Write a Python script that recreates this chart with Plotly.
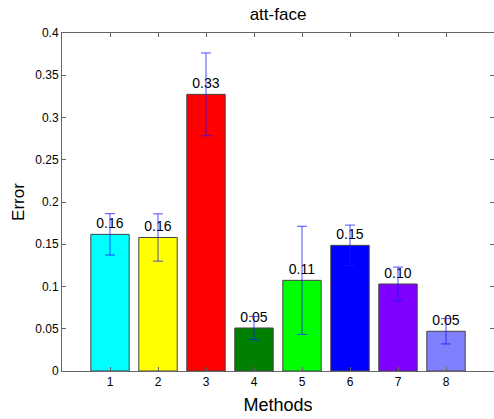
import plotly.graph_objects as go

methods = ["1", "2", "3", "4", "5", "6", "7", "8"]
positions = [1, 2, 3, 4, 5, 6, 7, 8]
errors = [0.1617, 0.158, 0.3274, 0.0509, 0.1073, 0.1487, 0.103, 0.047]
stds = [0.0245, 0.028, 0.049, 0.0137, 0.064, 0.024, 0.020, 0.015]
colors = ["#00FFFF", "#FFFF00", "#FF0000", "#008000", "#00FF00", "#0000FF", "#8000FF", "#8080FF"]
labels = [f"{v:.2f}" for v in errors]
y_ticks = [0, 0.05, 0.1, 0.15, 0.2, 0.25, 0.3, 0.35, 0.4]

FONT = "Liberation Sans, Arial, sans-serif"

fig = go.Figure()
fig.add_trace(go.Bar(
    x=positions, y=errors, width=0.8,
    marker=dict(color=colors, line=dict(color="#444444", width=1)),
    text=labels, textposition="outside", constraintext="none",
    textfont=dict(family=FONT, size=14, color="black"),
    cliponaxis=False,
    error_y=dict(type="data", array=stds, visible=True,
                 color="rgba(20,20,255,0.75)", thickness=1, width=5),
    showlegend=False,
))

fig.update_layout(
    width=494, height=419,
    margin=dict(l=62, r=0, t=33, b=48, autoexpand=False),
    paper_bgcolor="white", plot_bgcolor="white",
    font=dict(family=FONT, color="black"),
    title=dict(text="att-face", x=0.5628, xanchor="center", y=0.967, yanchor="middle",
               font=dict(family=FONT, size=17, color="black")),
    bargap=0.2,
)
fig.update_xaxes(
    range=[0, 9], tickvals=positions, ticktext=methods,
    ticks="inside", ticklen=4, tickcolor="#666666",
    showline=True, linecolor="#666666", linewidth=1, mirror="ticks",
    showgrid=False, zeroline=False, automargin=False,
    tickfont=dict(family=FONT, size=12, color="black"),
    title=dict(text="Methods", font=dict(family=FONT, size=18, color="black"), standoff=9),
)
fig.update_yaxes(
    range=[0, 0.4], tickvals=y_ticks, ticktext=[f"{t:g}" for t in y_ticks],
    ticks="inside", ticklen=4, tickcolor="#666666",
    showline=True, linecolor="#666666", linewidth=1, mirror="ticks",
    showgrid=False, zeroline=False, automargin=False,
    tickfont=dict(family=FONT, size=12, color="black"),
    title=dict(text="Error", font=dict(family=FONT, size=17, color="black"), standoff=6),
)

fig.write_html("out.html", config={"displayModeBar": False},
               post_script="document.body.style.margin='0';document.body.style.overflow='hidden';")
